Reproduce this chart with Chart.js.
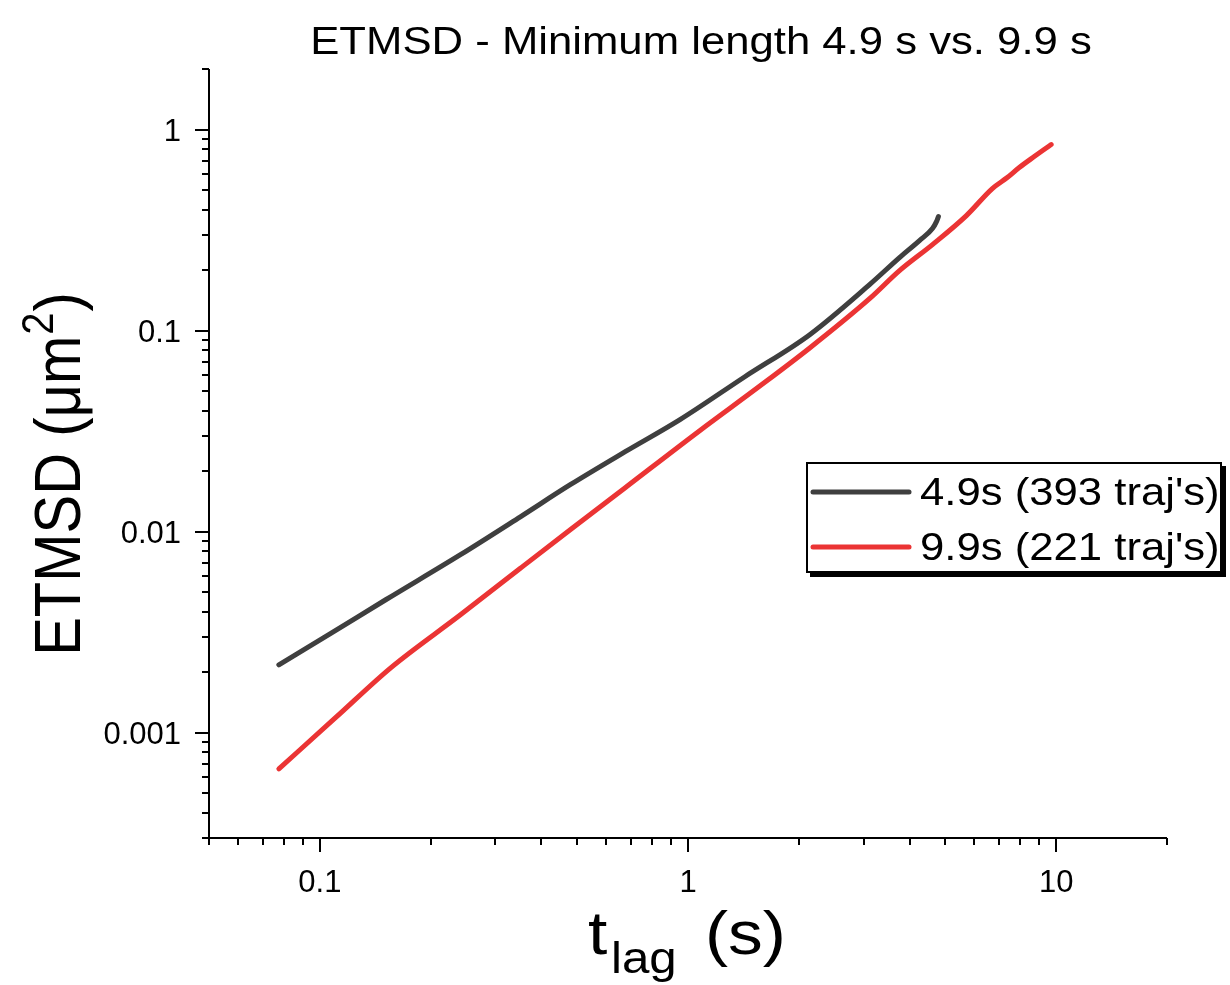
<!DOCTYPE html>
<html>
<head>
<meta charset="utf-8">
<title>ETMSD - Minimum length 4.9 s vs. 9.9 s</title>
<script src="https://cdn.jsdelivr.net/npm/chart.js@4/dist/chart.umd.min.js"></script>
<style>
  html, body { margin: 0; padding: 0; background: #fff; }
  #plot { display: block; }
</style>
</head>
<body>
<canvas id="plot" width="1230" height="985"></canvas>
<script>
// Ensemble-time-averaged MSD for two minimum trajectory lengths
const lagShort = [0.0774, 0.1071, 0.151, 0.241, 0.3505, 0.4788, 0.6752, 0.9512, 1.427, 2.141, 3.113, 3.754, 4.253, 4.613, 4.73, 4.788];
const msdShort = [0.00218, 0.00312, 0.00459, 0.00769, 0.01187, 0.01713, 0.025, 0.0361, 0.059, 0.0955, 0.1694, 0.2308, 0.2804, 0.3218, 0.3485, 0.3693];

const lagLong = [0.0774, 0.1105, 0.1558, 0.241, 0.3505, 0.4788, 0.6752, 1.078, 1.567, 2.141, 3.113, 3.754, 4.613, 5.704, 6.708, 7.365, 7.94, 8.718, 9.692];
const msdLong = [0.000662, 0.001193, 0.002106, 0.003864, 0.00658, 0.01023, 0.01656, 0.0319, 0.053, 0.082, 0.1442, 0.1988, 0.2679, 0.3734, 0.5086, 0.577, 0.6472, 0.7339, 0.842];

const seriesLabels = ["4.9s (393 traj's)", "9.9s (221 traj's)"];
const seriesColors = ['#3f3f3f', '#eb3434'];

const xTickValues = [0.1, 1, 10];
const xTickLabels = ['0.1', '1', '10'];
const yTickValues = [0.001, 0.01, 0.1, 1];
const yTickLabels = ['0.001', '0.01', '0.1', '1'];

const chartTitle = 'ETMSD - Minimum length 4.9 s vs. 9.9 s';

const FONT = '"Liberation Sans", Arial, Helvetica, sans-serif';
const SX = 1.12; // horizontal stretch used for titles and legend text

function pairs(xs, ys) {
  return xs.map((x, i) => ({ x: x, y: ys[i] }));
}

function drawText(ctx, str, x, y, size, align, sx) {
  ctx.save();
  ctx.translate(x, y);
  ctx.scale(sx || SX, 1);
  ctx.font = size + 'px ' + FONT;
  ctx.textAlign = align || 'left';
  ctx.textBaseline = 'alphabetic';
  ctx.fillStyle = '#000';
  ctx.fillText(str, 0, 0);
  ctx.restore();
}

function isDecade(v) {
  const l = Math.log10(v);
  return Math.abs(l - Math.round(l)) < 1e-9;
}
function isWholeStep(v) {
  const m = v / Math.pow(10, Math.floor(Math.log10(v) + 1e-9));
  return Math.abs(m - Math.round(m)) < 1e-6;
}

// Ticks, tick labels, titles and the framed legend
const figureDecor = {
  id: 'figureDecor',
  afterDraw(chart) {
    const ctx = chart.ctx;
    const area = chart.chartArea;
    const xs = chart.scales.x;
    const ys = chart.scales.y;
    const TICK_FONT = 31, TICK_SX = 1.0;

    ctx.save();
    ctx.strokeStyle = '#000';
    ctx.lineWidth = 2;
    ctx.lineCap = 'butt';

    // axis lines
    ctx.beginPath();
    ctx.moveTo(area.left, area.top);
    ctx.lineTo(area.left, area.bottom);
    ctx.lineTo(area.right, area.bottom);
    ctx.stroke();

    // x ticks (outward)
    xs.ticks.forEach(t => {
      if (!isWholeStep(t.value)) return;
      const px = Math.round(xs.getPixelForValue(t.value));
      const len = isDecade(t.value) ? 14 : 7;
      ctx.beginPath();
      ctx.moveTo(px, area.bottom);
      ctx.lineTo(px, area.bottom + len);
      ctx.stroke();
    });
    // y ticks (outward)
    ys.ticks.forEach(t => {
      if (!isWholeStep(t.value)) return;
      const py = Math.round(ys.getPixelForValue(t.value));
      const len = isDecade(t.value) ? 14 : 7;
      ctx.beginPath();
      ctx.moveTo(area.left, py);
      ctx.lineTo(area.left - len, py);
      ctx.stroke();
    });
    ctx.restore();

    // tick labels
    xTickValues.forEach((v, i) => {
      drawText(ctx, xTickLabels[i], xs.getPixelForValue(v), area.bottom + 54, TICK_FONT, 'center', TICK_SX);
    });
    yTickValues.forEach((v, i) => {
      drawText(ctx, yTickLabels[i], area.left - 28, ys.getPixelForValue(v) + 11, TICK_FONT, 'right', TICK_SX);
    });

    // chart title
    drawText(ctx, chartTitle, 701, 54, 39, 'center');

    // x axis title: t_lag (s)
    const big = 62, sub = 44;
    drawText(ctx, 't', 588, 954, big, 'left');
    drawText(ctx, 'lag', 611, 973, sub, 'left');
    drawText(ctx, '(s)', 705, 954, big, 'left');

    // y axis title: ETMSD (μm²), rotated
    const ySize = 58, supSize = 40;
    const partA = 'ETMSD (\u03bcm', partB = '2', partC = ')';
    ctx.save();
    ctx.font = ySize + 'px ' + FONT;
    const wA = ctx.measureText(partA).width;
    const wC = ctx.measureText(partC).width;
    ctx.font = supSize + 'px ' + FONT;
    const wB = ctx.measureText(partB).width;
    const total = wA + wB + wC + 2;
    ctx.translate(80, 474);
    ctx.scale(SX, 1);
    ctx.rotate(-Math.PI / 2);
    ctx.fillStyle = '#000';
    ctx.textBaseline = 'alphabetic';
    ctx.textAlign = 'left';
    let u = -total / 2;
    ctx.font = ySize + 'px ' + FONT;
    ctx.fillText(partA, u, 0);
    u += wA + 1;
    ctx.font = supSize + 'px ' + FONT;
    ctx.fillText(partB, u, -24);
    u += wB + 1;
    ctx.font = ySize + 'px ' + FONT;
    ctx.fillText(partC, u, 0);
    ctx.restore();

    // legend box with drop shadow
    const L = 806, T = 462, R = 1222, B = 573, SH = 4;
    ctx.save();
    ctx.fillStyle = '#000';
    ctx.fillRect(L + SH, T + SH, R - L, B - T);
    ctx.fillStyle = '#fff';
    ctx.fillRect(L, T, R - L, B - T);
    ctx.strokeStyle = '#000';
    ctx.lineWidth = 2;
    ctx.strokeRect(L + 1, T + 1, R - L - 2, B - T - 2);
    const rows = [492, 547];
    chart.data.datasets.forEach((ds, i) => {
      ctx.strokeStyle = ds.borderColor;
      ctx.lineWidth = 5;
      ctx.lineCap = 'round';
      ctx.beginPath();
      ctx.moveTo(813, rows[i]);
      ctx.lineTo(909, rows[i]);
      ctx.stroke();
      drawText(ctx, ds.label, 920, rows[i] + 13, 39, 'left');
    });
    ctx.restore();
  }
};

const datasets = [
  { data: pairs(lagShort, msdShort) },
  { data: pairs(lagLong, msdLong) }
].map((d, i) => Object.assign(d, {
  label: seriesLabels[i],
  borderColor: seriesColors[i],
  backgroundColor: seriesColors[i],
  borderWidth: 5,
  pointRadius: 0,
  pointHoverRadius: 0,
  cubicInterpolationMode: 'monotone',
  fill: false,
  borderCapStyle: 'round',
  borderJoinStyle: 'round'
}));

new Chart(document.getElementById('plot'), {
  type: 'line',
  data: { datasets: datasets },
  options: {
    responsive: false,
    animation: false,
    devicePixelRatio: 1,
    events: [],
    layout: { autoPadding: false, padding: { left: 0, top: 69, right: 63, bottom: 0 } },
    plugins: {
      legend: { display: false },
      title: { display: false },
      tooltip: { enabled: false }
    },
    scales: {
      x: {
        type: 'logarithmic',
        position: 'bottom',
        min: 0.05,
        max: 20,
        grid: { display: false, drawTicks: false },
        border: { display: false },
        ticks: { display: false, autoSkip: false },
        afterFit: s => { s.height = 147; }
      },
      y: {
        type: 'logarithmic',
        position: 'left',
        min: 0.0003,
        max: 2,
        grid: { display: false, drawTicks: false },
        border: { display: false },
        ticks: { display: false, autoSkip: false },
        afterFit: s => { s.width = 209; }
      }
    }
  },
  plugins: [figureDecor]
});
</script>
</body>
</html>
